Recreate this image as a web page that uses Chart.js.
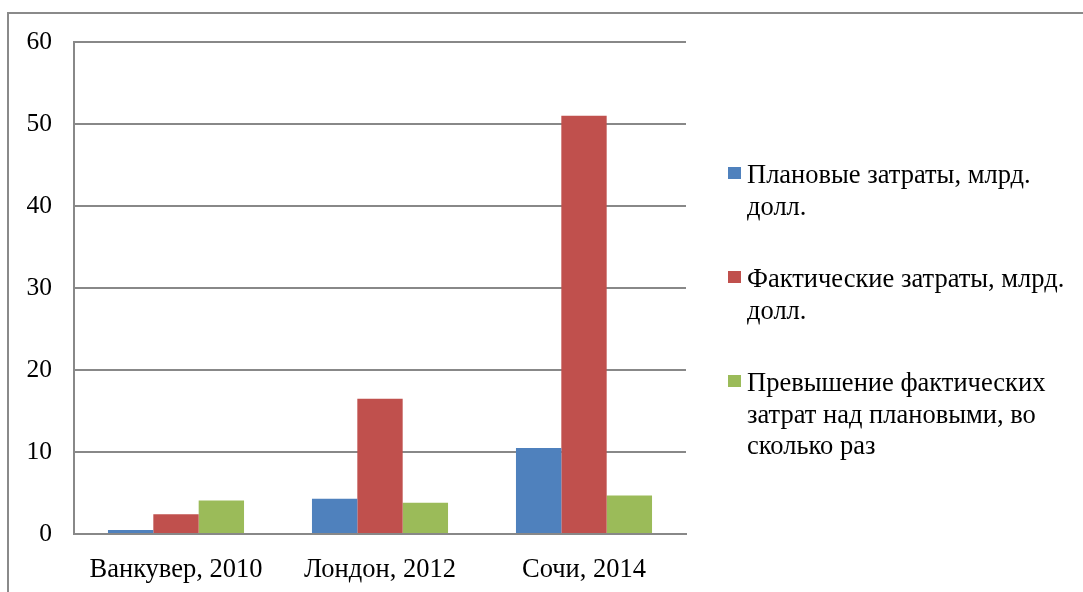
<!DOCTYPE html>
<html lang="ru">
<head>
<meta charset="utf-8">
<title>Затраты на Олимпийские игры</title>
<script src="https://cdn.jsdelivr.net/npm/chart.js@4/dist/chart.umd.min.js"></script>
<style>
  html, body {
    margin: 0;
    padding: 0;
    background: #ffffff;
  }
  #wrap {
    position: relative;
    width: 1083px;
    height: 592px;
    overflow: hidden;
  }
  #frame {
    position: absolute;
    left: 7px;
    top: 12px;
    width: 1200px;
    height: 700px;
    border-top: 2px solid #8a8a8a;
    border-left: 2px solid #8a8a8a;
  }
  #myChart {
    position: absolute;
    left: 0;
    top: 0;
  }
  #legend {
    position: absolute;
    left: 728px;
    top: 159px;
    font-family: "Liberation Serif", "Times New Roman", serif;
    font-size: 26.5px;
    line-height: 31.5px;
    color: #000000;
  }
  .legend-item {
    position: relative;
    padding-left: 19px;
    width: 330px;
    margin-bottom: 41px;
  }
  .legend-box {
    position: absolute;
    left: 0;
    top: 8px;
    width: 13px;
    height: 12px;
  }
</style>
</head>
<body>
<div id="wrap">
  <div id="frame"></div>
  <canvas id="myChart" width="1083" height="592"></canvas>
  <div id="legend"></div>
</div>
<script>
"use strict";

// values
const cities = ["Ванкувер, 2010", "Лондон, 2012", "Сочи, 2014"];
const plannedCosts = [0.5, 4.3, 10.5];
const actualCosts = [2.4, 16.5, 51];
const overrunTimes = [4.1, 3.8, 4.7];
const seriesNames = [
  "Плановые затраты, млрд. долл.",
  "Фактические затраты, млрд. долл.",
  "Превышение фактических затрат над плановыми, во сколько раз",
];
const seriesColors = ["#4f81bd", "#c0504d", "#9bbb59"];
const yTicks = [0, 10, 20, 30, 40, 50, 60];

const fontName = "'Liberation Serif', 'Times New Roman', serif";
const gridColor = "#888888";

// legend is html so the long labels can wrap like in the original
const htmlLegend = {
  id: "htmlLegend",
  afterUpdate(chart) {
    let box = document.getElementById("legend");
    box.innerHTML = "";
    chart.data.datasets.forEach(function (ds) {
      let item = document.createElement("div");
      item.className = "legend-item";
      let sq = document.createElement("span");
      sq.className = "legend-box";
      sq.style.background = ds.backgroundColor;
      let txt = document.createElement("span");
      txt.textContent = ds.label;
      item.appendChild(sq);
      item.appendChild(txt);
      box.appendChild(item);
    });
  },
};

const data = {
  labels: cities,
  datasets: [
    { label: seriesNames[0], data: plannedCosts, backgroundColor: seriesColors[0] },
    { label: seriesNames[1], data: actualCosts, backgroundColor: seriesColors[1] },
    { label: seriesNames[2], data: overrunTimes, backgroundColor: seriesColors[2] },
  ],
};

const config = {
  type: "bar",
  data: data,
  options: {
    responsive: false,
    animation: false,
    devicePixelRatio: 1,
    layout: {
      padding: { left: 0, top: 42, right: 397, bottom: 0 },
    },
    datasets: {
      bar: {
        categoryPercentage: 0.667,
        barPercentage: 1,
      },
    },
    plugins: {
      legend: { display: false },
      tooltip: { enabled: false },
    },
    scales: {
      x: {
        grid: { display: false, drawTicks: false },
        border: { display: true, color: gridColor, width: 2 },
        ticks: {
          color: "#000000",
          font: { family: fontName, size: 26.5 },
          padding: 20,
          maxRotation: 0,
        },
        afterFit(scale) {
          scale.height = 58;
        },
      },
      y: {
        min: 0,
        max: 60,
        afterBuildTicks(scale) {
          scale.ticks = yTicks.map(function (v) {
            return { value: v };
          });
        },
        grid: { color: gridColor, lineWidth: 2, drawTicks: false },
        border: { display: true, color: gridColor, width: 2 },
        ticks: {
          color: "#000000",
          font: { family: fontName, size: 25.5 },
          padding: 22,
        },
        afterFit(scale) {
          scale.width = 74;
        },
      },
    },
  },
  plugins: [htmlLegend],
};

const canvasChart = document.getElementById("myChart");
new Chart(canvasChart, config);
</script>
</body>
</html>
